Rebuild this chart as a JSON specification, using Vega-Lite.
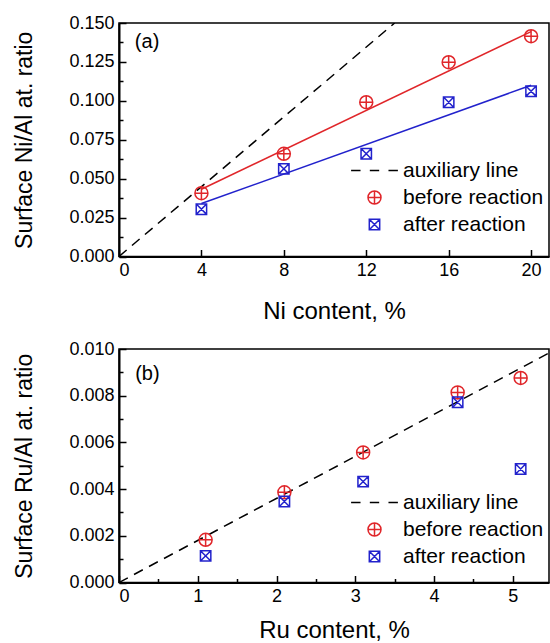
{
  "$schema": "https://vega.github.io/schema/vega-lite/v6.json",
  "padding": {"left": 13, "top": 13, "right": 0, "bottom": 0},
  "spacing": 14,
  "config": {
    "font": "Liberation Sans",
    "view": {"stroke": "black", "strokeWidth": 1.5},
    "axis": {"domainColor": "black", "domainWidth": 2, "tickColor": "black", "tickWidth": 1.5, "labelColor": "black", "titleColor": "black", "labelFontSize": 18, "titleFontSize": 23, "titleFontWeight": "normal", "grid": false, "labelFont": "Liberation Sans", "titleFont": "Liberation Sans"},
    "axisX": {"titleFontSize": 24},
    "legend": {"labelFont": "Liberation Sans", "labelColor": "black"}
  },
  "resolve": {"scale": {"x": "independent", "y": "independent", "color": "independent", "shape": "independent"}, "legend": {"color": "independent", "shape": "independent"}},
  "datasets": {
    "auxA": [{"x": 0, "y": 0}, {"x": 13.38, "y": 0.15}],
    "fitA": [{"series": "before reaction", "x": 4, "y": 0.0432}, {"series": "before reaction", "x": 20, "y": 0.1445}, {"series": "after reaction", "x": 4, "y": 0.034}, {"series": "after reaction", "x": 20, "y": 0.11}],
    "ptsA": [
      {"series": "before reaction", "x": 4, "y": 0.0407},
      {"series": "before reaction", "x": 8, "y": 0.066},
      {"series": "before reaction", "x": 12, "y": 0.0991},
      {"series": "before reaction", "x": 16, "y": 0.1248},
      {"series": "before reaction", "x": 20, "y": 0.1415},
      {"series": "after reaction", "x": 4, "y": 0.0304},
      {"series": "after reaction", "x": 8, "y": 0.0563},
      {"series": "after reaction", "x": 12, "y": 0.066},
      {"series": "after reaction", "x": 16, "y": 0.0991},
      {"series": "after reaction", "x": 20, "y": 0.1062}
    ],
    "auxB": [{"x": 0, "y": 0}, {"x": 5.46, "y": 0.00983}],
    "ptsB": [
      {"series": "before reaction", "x": 1.1, "y": 0.00183},
      {"series": "before reaction", "x": 2.1, "y": 0.00386},
      {"series": "before reaction", "x": 3.1, "y": 0.00557},
      {"series": "before reaction", "x": 4.3, "y": 0.00814},
      {"series": "before reaction", "x": 5.1, "y": 0.00876},
      {"series": "after reaction", "x": 1.1, "y": 0.00114},
      {"series": "after reaction", "x": 2.1, "y": 0.00347},
      {"series": "after reaction", "x": 3.1, "y": 0.00432},
      {"series": "after reaction", "x": 4.3, "y": 0.00772},
      {"series": "after reaction", "x": 5.1, "y": 0.00486}
    ],
    "labA": [{"x": 0.77, "y": 0.1375, "t": "(a)"}],
    "labB": [{"x": 0.205, "y": 0.00893, "t": "(b)"}]
  },
  "vconcat": [
    {
      "width": 430,
      "height": 233.5,
      "resolve": {"axis": {"x": "independent", "y": "independent"}},
      "layer": [
        {
          "data": {"name": "auxA"},
          "mark": {"type": "line", "color": "black", "strokeDash": [10, 7], "strokeWidth": 1.5, "clip": true},
          "encoding": {
            "x": {"field": "x", "type": "quantitative", "scale": {"domain": [0, 20.87], "nice": false}, "axis": {"orient": "bottom", "values": [0, 4, 8, 12, 16, 20], "tickSize": -7, "labelPadding": 12, "title": "Ni content, %", "titlePadding": 20}},
            "y": {"field": "y", "type": "quantitative", "scale": {"domain": [0, 0.15], "nice": false}, "axis": {"orient": "left", "values": [0, 0.025, 0.05, 0.075, 0.1, 0.125, 0.15], "format": ".3f", "tickSize": -7, "labelPadding": 12, "title": "Surface Ni/Al at. ratio", "titlePadding": 32}}
          }
        },
        {
          "data": {"name": "auxA"},
          "mark": {"type": "line", "opacity": 0},
          "encoding": {
            "x": {"field": "x", "type": "quantitative", "axis": {"orient": "bottom", "values": [2, 6, 10, 14, 18], "tickSize": 0, "labels": false, "domain": false, "title": null}},
            "y": {"field": "y", "type": "quantitative", "axis": {"orient": "left", "values": [0.0125, 0.0375, 0.0625, 0.0875, 0.1125, 0.1375], "tickSize": -4, "labels": false, "domain": false, "title": null}}
          }
        },
        {
          "data": {"name": "fitA"},
          "transform": [{"filter": "datum.series == 'before reaction'"}],
          "mark": {"type": "line", "color": "#e0262a", "strokeWidth": 1.5},
          "encoding": {
            "x": {"field": "x", "type": "quantitative", "axis": null},
            "y": {"field": "y", "type": "quantitative", "axis": null}
          }
        },
        {
          "data": {"name": "fitA"},
          "transform": [{"filter": "datum.series == 'after reaction'"}],
          "mark": {"type": "line", "color": "#2222cc", "strokeWidth": 1.5},
          "encoding": {
            "x": {"field": "x", "type": "quantitative", "axis": null},
            "y": {"field": "y", "type": "quantitative", "axis": null}
          }
        },
        {
          "data": {"name": "ptsA"},
          "mark": {"type": "point", "filled": false, "strokeWidth": 1.5, "size": 169, "opacity": 1},
          "encoding": {
            "x": {"field": "x", "type": "quantitative", "axis": null},
            "y": {"field": "y", "type": "quantitative", "axis": null},
            "color": {"field": "series", "type": "nominal", "scale": {"domain": ["auxiliary line", "before reaction", "after reaction"], "range": ["black", "#e0262a", "#2222cc"]}, "legend": {"orient": "none", "legendX": 243, "legendY": 137, "title": null, "labelFontSize": 21, "symbolSize": 169, "symbolStrokeWidth": 1.5, "symbolOffset": 2, "labelOffset": 18, "rowPadding": 5}},
            "shape": {"field": "series", "type": "nominal", "scale": {"domain": ["auxiliary line", "before reaction", "after reaction"], "range": ["M-3.6,0L-2.15,0M-0.72,0L0.72,0M2.15,0L3.6,0", "M-1,0A1,1 0 1,1 1,0A1,1 0 1,1 -1,0M-1,0L1,0M0,-1L0,1", "M-0.8,-0.8L0.8,-0.8L0.8,0.8L-0.8,0.8ZM-0.8,-0.8L0.8,0.8M0.8,-0.8L-0.8,0.8"]}, "legend": {"orient": "none", "legendX": 243, "legendY": 137, "title": null, "labelFontSize": 21, "symbolSize": 169, "symbolStrokeWidth": 1.5, "symbolOffset": 2, "labelOffset": 18, "rowPadding": 5}}
          }
        },
        {
          "data": {"name": "labA"},
          "mark": {"type": "text", "align": "left", "baseline": "middle", "fontSize": 20, "color": "black"},
          "encoding": {
            "x": {"field": "x", "type": "quantitative", "axis": null},
            "y": {"field": "y", "type": "quantitative", "axis": null},
            "text": {"field": "t"}
          }
        }
      ]
    },
    {
      "width": 430,
      "height": 233.5,
      "resolve": {"axis": {"x": "independent", "y": "independent"}},
      "layer": [
        {
          "data": {"name": "auxB"},
          "mark": {"type": "line", "color": "black", "strokeDash": [10, 7], "strokeWidth": 1.5, "clip": true},
          "encoding": {
            "x": {"field": "x", "type": "quantitative", "scale": {"domain": [0, 5.46], "nice": false}, "axis": {"orient": "bottom", "values": [0, 1, 2, 3, 4, 5], "tickSize": -7, "labelPadding": 12, "title": "Ru content, %", "titlePadding": 13}},
            "y": {"field": "y", "type": "quantitative", "scale": {"domain": [0, 0.01], "nice": false}, "axis": {"orient": "left", "values": [0, 0.002, 0.004, 0.006, 0.008, 0.01], "format": ".3f", "tickSize": -7, "labelPadding": 12, "title": "Surface Ru/Al at. ratio", "titlePadding": 32}}
          }
        },
        {
          "data": {"name": "auxB"},
          "mark": {"type": "line", "opacity": 0},
          "encoding": {
            "x": {"field": "x", "type": "quantitative", "axis": {"orient": "bottom", "values": [0.5, 1.5, 2.5, 3.5, 4.5], "tickSize": -4, "labels": false, "domain": false, "title": null}},
            "y": {"field": "y", "type": "quantitative", "axis": {"orient": "left", "values": [0.001, 0.003, 0.005, 0.007, 0.009], "tickSize": -4, "labels": false, "domain": false, "title": null}}
          }
        },
        {
          "data": {"name": "ptsB"},
          "mark": {"type": "point", "filled": false, "strokeWidth": 1.5, "size": 169, "opacity": 1},
          "encoding": {
            "x": {"field": "x", "type": "quantitative", "axis": null},
            "y": {"field": "y", "type": "quantitative", "axis": null},
            "color": {"field": "series", "type": "nominal", "scale": {"domain": ["auxiliary line", "before reaction", "after reaction"], "range": ["black", "#e0262a", "#2222cc"]}, "legend": {"orient": "none", "legendX": 243, "legendY": 143, "title": null, "labelFontSize": 21, "symbolSize": 169, "symbolStrokeWidth": 1.5, "symbolOffset": 2, "labelOffset": 18, "rowPadding": 5}},
            "shape": {"field": "series", "type": "nominal", "scale": {"domain": ["auxiliary line", "before reaction", "after reaction"], "range": ["M-3.6,0L-2.15,0M-0.72,0L0.72,0M2.15,0L3.6,0", "M-1,0A1,1 0 1,1 1,0A1,1 0 1,1 -1,0M-1,0L1,0M0,-1L0,1", "M-0.8,-0.8L0.8,-0.8L0.8,0.8L-0.8,0.8ZM-0.8,-0.8L0.8,0.8M0.8,-0.8L-0.8,0.8"]}, "legend": {"orient": "none", "legendX": 243, "legendY": 143, "title": null, "labelFontSize": 21, "symbolSize": 169, "symbolStrokeWidth": 1.5, "symbolOffset": 2, "labelOffset": 18, "rowPadding": 5}}
          }
        },
        {
          "data": {"name": "labB"},
          "mark": {"type": "text", "align": "left", "baseline": "middle", "fontSize": 20, "color": "black"},
          "encoding": {
            "x": {"field": "x", "type": "quantitative", "axis": null},
            "y": {"field": "y", "type": "quantitative", "axis": null},
            "text": {"field": "t"}
          }
        }
      ]
    }
  ]
}
